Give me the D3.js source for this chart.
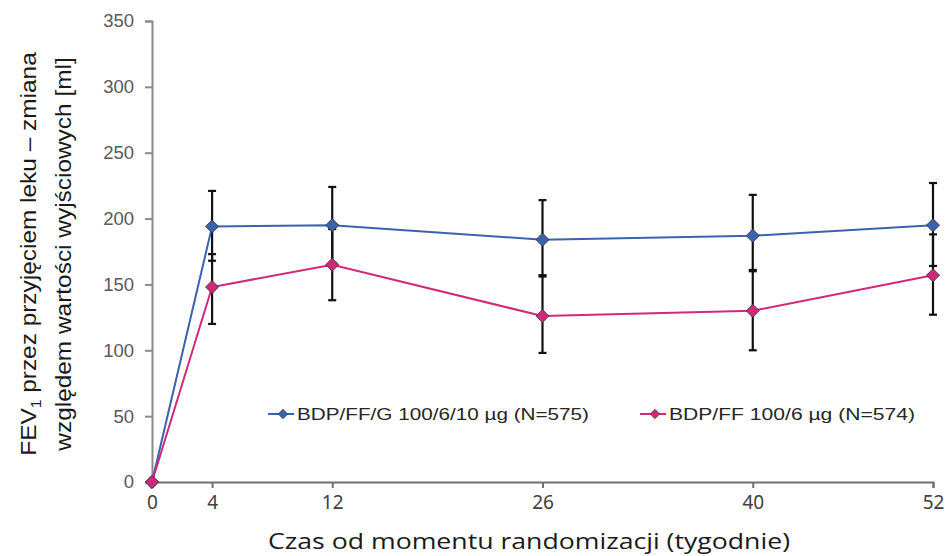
<!DOCTYPE html>
<html>
<head>
<meta charset="utf-8">
<script src="https://cdn.jsdelivr.net/npm/d3@7"></script>
<style>
  body { margin: 0; background: #fff; }
  svg { display: block; }
</style>
</head>
<body>
<div id="chart"></div>
<script>
// weeks since randomisation
const weeks = [0, 4, 12, 26, 40, 52];
const yTicks = [0, 50, 100, 150, 200, 250, 300, 350];

const seriesNames = ["BDP/FF/G 100/6/10 µg (N=575)", "BDP/FF 100/6 µg (N=574)"];

// BDP/FF/G
const tripleMean = [0, 194, 195, 184, 187, 195];
const tripleLow  = [null, 168, 166, 156, 160, 164];
const tripleHigh = [null, 221, 224, 214, 218, 227];

// BDP/FF
const dualMean = [0, 148, 165, 126, 130, 157];
const dualLow  = [null, 120, 138, 98, 100, 127];
const dualHigh = [null, 173, 192, 157, 161, 188];

const colors = ["#3a62ad", "#d1287a"];

const width = 950, height = 556;
const margin = {top: 21, right: 17, bottom: 74, left: 152};

const svg = d3.select("#chart").append("svg")
    .attr("width", width)
    .attr("height", height);

const x = d3.scaleLinear().domain([0, 52]).range([margin.left, width - margin.right]);
const y = d3.scaleLinear().domain([0, 350]).range([height - margin.bottom, margin.top]);

let series = [
    {name: seriesNames[0], color: colors[0], mean: tripleMean, low: tripleLow, high: tripleHigh},
    {name: seriesNames[1], color: colors[1], mean: dualMean, low: dualLow, high: dualHigh}
];

// axes
let yAxis = svg.append("g")
    .attr("transform", "translate(" + margin.left + ",0)")
    .call(d3.axisLeft(y).tickValues(yTicks).tickSize(7).tickPadding(11));
yAxis.selectAll("text")
    .style("font-family", "'Liberation Sans', Arial, sans-serif")
    .style("font-size", "18.5px")
    .attr("fill", "#595959");

let xAxis = svg.append("g")
    .attr("transform", "translate(0," + y(0) + ")")
    .call(d3.axisBottom(x).tickValues(weeks).tickSize(6).tickPadding(8));
xAxis.selectAll("text")
    .style("font-family", "'Liberation Sans Narrow', 'Noto Sans', sans-serif")
    .style("font-size", "19px")
    .attr("fill", "#404040");

yAxis.selectAll(".domain, .tick line").attr("stroke", "#8a8a8a").attr("stroke-width", 2);
xAxis.selectAll(".domain, .tick line").attr("stroke", "#6e6e6e").attr("stroke-width", 2);

// axis titles
svg.append("text")
    .attr("x", 529)
    .attr("y", 549)
    .attr("text-anchor", "middle")
    .attr("textLength", 522)
    .attr("lengthAdjust", "spacingAndGlyphs")
    .style("font-family", "'Open Sans', 'Noto Sans', sans-serif")
    .style("font-size", "22.5px")
    .attr("fill", "#1a1a1a")
    .text("Czas od momentu randomizacji (tygodnie)");

let yTitle = svg.append("text")
    .attr("transform", "translate(0,254) rotate(-90) scale(1.11,1)")
    .attr("text-anchor", "middle")
    .style("font-family", "'Liberation Sans', Arial, sans-serif")
    .style("font-size", "22px")
    .attr("fill", "#1a1a1a");
let line1 = yTitle.append("tspan").attr("x", 0).attr("y", 36);
line1.append("tspan").text("FEV");
line1.append("tspan").attr("dy", 5).style("font-size", "14px").text("1");
line1.append("tspan").attr("dy", -5).text(" przez przyjęciem leku – zmiana");
yTitle.append("tspan").attr("x", 0).attr("y", 71).text("względem wartości wyjściowych [ml]");

const diamond = d3.symbol().type(d3.symbolDiamond2).size(110);

// lines
let line = d3.line().x((d, i) => x(weeks[i])).y(d => y(d));
series.forEach(s => {
    svg.append("path")
        .datum(s.mean)
        .attr("fill", "none")
        .attr("stroke", s.color)
        .attr("stroke-width", 2)
        .attr("d", line);
});

// error bars
series.forEach(s => {
    let g = svg.append("g").attr("stroke", "#111").attr("stroke-width", 2.2);
    weeks.forEach((w, i) => {
        if (s.low[i] == null) return;
        g.append("line")
            .attr("x1", x(w)).attr("x2", x(w))
            .attr("y1", y(s.low[i])).attr("y2", y(s.high[i]));
        [s.low[i], s.high[i]].forEach(v => {
            g.append("line")
                .attr("x1", x(w) - 4).attr("x2", x(w) + 4)
                .attr("y1", y(v)).attr("y2", y(v));
        });
    });
});

// markers
series.forEach(s => {
    svg.append("g").selectAll("path")
        .data(s.mean)
        .enter().append("path")
        .attr("transform", (d, i) => "translate(" + x(weeks[i]) + "," + y(d) + ")")
        .attr("d", diamond)
        .attr("fill", s.color)
        .attr("stroke", "#333")
        .attr("stroke-width", 0.8);
});

// legend
const legendX = [268, 640];
const legendW = [292, 246];
series.forEach((s, i) => {
    let g = svg.append("g").attr("transform", "translate(" + legendX[i] + ",414)");
    g.append("line")
        .attr("x1", 0).attr("x2", 26)
        .attr("stroke", s.color).attr("stroke-width", 2);
    g.append("path")
        .attr("transform", "translate(15,0)")
        .attr("d", d3.symbol().type(d3.symbolDiamond2).size(60))
        .attr("fill", s.color)
        .attr("stroke", "#333")
        .attr("stroke-width", 0.6);
    g.append("text")
        .attr("x", 29)
        .attr("dy", "0.36em")
        .attr("textLength", legendW[i])
        .attr("lengthAdjust", "spacingAndGlyphs")
        .style("font-family", "'Liberation Sans', Arial, sans-serif")
        .style("font-size", "17px")
        .attr("fill", "#262626")
        .text(s.name);
});
</script>
</body>
</html>
